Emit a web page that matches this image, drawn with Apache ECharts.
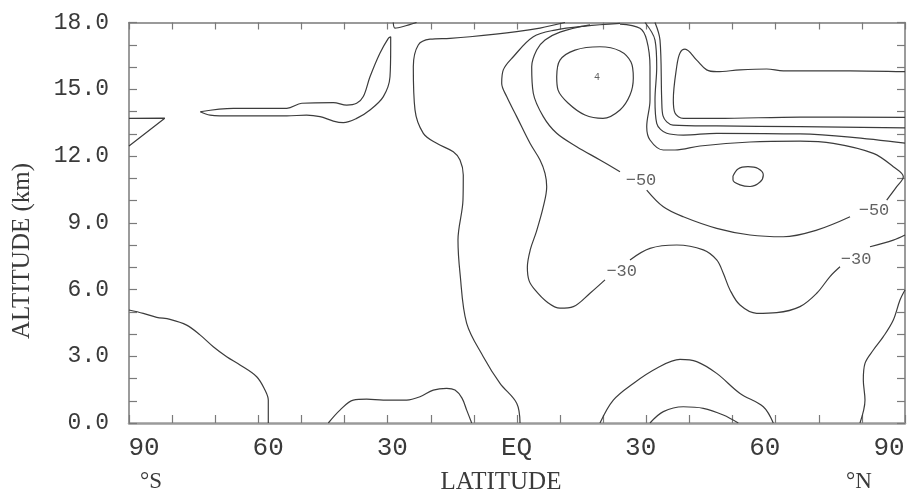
<!DOCTYPE html>
<html>
<head>
<meta charset="utf-8">
<script src="https://cdn.jsdelivr.net/npm/echarts@6/dist/echarts.min.js"></script>
<style>
html,body{margin:0;padding:0;background:#fff;}
#chart{width:908px;height:494px;}
</style>
</head>
<body>
<div id="chart"></div>
<script>
// ---- tick labels ----
const latTickValues = [-90, -60, -30, 0, 30, 60, 90];
const latTickLabels = ['90', '60', '30', 'EQ', '30', '60', '90'];
const altLabelStep = 3;

// ---- contour lines: [latitude (deg, S negative), altitude (km)] ----
const cTriangle = [[-90,13.69],[-81.7,13.7],[-90,12.45]];
const cTongue = [[-73.5,13.99],[-65.8,14.14],[-53.4,14.14],[-49.9,14.37],[-42.6,14.4],[-39.5,14.29],[-37.2,14.37],[-35.65,14.67],[-34.1,15.56],[-31.8,16.62],[-29.85,17.29],[-29.3,17.36],[-29.3,16.91],[-29.46,15.56],[-31.0,14.67],[-34.1,14.07],[-37.2,13.69],[-40.3,13.5],[-42.6,13.57],[-45.7,13.77],[-48.8,13.84],[-53.4,13.8],[-65.8,13.8],[-71.2,13.84],[-73.5,13.99]];
const cTopLoop = [[-28.7,18],[-28.3,17.75],[-26.4,17.82],[-23.3,18]];
const cBig = [[11.13,18.0],[5.34,17.75],[-0.07,17.59],[-10.9,17.36],[-15.54,17.29],[-20.18,17.25],[-22.9,16.99],[-24.05,16.01],[-23.66,14.07],[-21.73,13.02],[-18.63,12.57],[-14.78,12.19],[-13.22,11.82],[-12.46,11.15],[-12.53,10.02],[-13.69,8.22],[-13.22,6.73],[-11.67,4.48],[-7.82,2.98],[-3.94,1.78],[-0.07,0.89],[0.7,0]];
const cMinus30a = [[23.89,17.96],[15.77,17.84],[8.81,17.66],[3.78,17.36],[-0.86,16.46],[-3.18,15.87],[-3.55,15.27],[-2.39,14.67],[-0.07,13.77],[3.02,12.57],[5.34,11.82],[6.5,11.22],[6.89,10.62],[6.1,9.72],[4.5,8.6],[3.1,7.8],[2.4,7.0],[2.8,6.4],[4.18,5.98],[6.89,5.45],[9.97,5.16],[13.06,5.23],[16.93,5.83],[20.41,6.43]];
const cMinus30b = [[26.21,7.33],[30.85,7.85],[37.04,8.0],[43.21,7.78],[46.32,7.33],[47.85,6.73],[49.41,5.98],[51.73,5.3],[55.6,4.93],[60.24,4.96],[65.64,5.23],[69.52,5.83],[72.6,6.58],[74.92,7.02]];
const cMinus30c = [[81.88,7.92],[87.29,8.22],[90,8.45]];
const cMinus50a = [[16.93,17.89],[9.97,17.57],[6.5,17.21],[4.57,16.76],[3.41,16.01],[3.78,14.82],[6.1,13.77],[9.21,13.02],[13.85,12.42],[19.25,11.82],[23.89,11.29]];
const cMinus50b = [[30.09,10.47],[33.94,9.72],[38.58,9.27],[46.32,8.75],[54.05,8.45],[61.77,8.37],[69.52,8.67],[77.25,9.27]];
const cMinus50c = [[85.76,10.02],[88.08,10.62],[89.61,11.07],[87.29,11.52],[82.65,12.12],[73.37,12.57],[65.65,12.67],[54.05,12.63],[42.45,12.45],[36.65,12.27],[33.94,12.27],[30.85,12.72],[30.09,13.32],[30.85,14.52],[30.85,16.01],[30.09,17.21],[28.53,17.74],[23.89,17.93]];
const cCircle = [[9.21,15.56],[9.97,16.31],[13.45,16.76],[19.25,16.91],[23.89,16.72],[26.44,16.22],[26.98,15.51],[26.21,14.74],[23.89,14.07],[19.95,13.69],[15.77,13.84],[11.83,14.38],[9.51,14.97],[9.21,15.56]];
const cEllipse = [[50.1,11.1],[51.26,11.42],[53.58,11.52],[55.9,11.44],[57.13,11.15],[56.37,10.83],[54.05,10.63],[51.73,10.7],[50.1,10.92],[50.1,11.1]];
const cFinger = [[90,15.79],[77.25,15.83],[61.77,15.83],[57.92,15.91],[51.73,15.87],[46.32,15.79],[44.0,15.87],[41.68,16.31],[38.97,16.8],[37.81,16.63],[37.04,16.01],[36.26,14.52],[36.65,13.93],[38.58,13.69],[46.32,13.69],[65.65,13.75],[90,13.74]];
const cJet1 = [[32.01,18.0],[33.17,17.21],[33.57,14.52],[33.87,13.8],[36.19,13.39],[46.32,13.35],[65.65,13.32],[90,13.26]];
const cJet2 = [[29.69,18.0],[32.01,17.21],[32.41,16.01],[32.01,14.52],[32.41,13.47],[34.73,13.02],[38.58,12.94],[46.32,13.02],[65.65,12.99],[77.25,12.85],[90,12.58]];
const cSouthSurface = [[-90,5.08],[-86.69,4.93],[-83.58,4.75],[-80.49,4.66],[-76.62,4.4],[-73.53,3.96],[-70.45,3.43],[-67.34,2.98],[-64.25,2.61],[-60.38,2.08],[-58.46,1.48],[-57.69,1.03],[-57.69,0]];
const cSouthBump = [[-43.77,0],[-41.06,0.58],[-37.97,1.03],[-34.86,1.07],[-31.01,1.03],[-25.59,1.03],[-22.5,1.18],[-19.42,1.48],[-16.31,1.56],[-14.38,1.48],[-12.76,1.12],[-11.67,0.58],[-10.51,0]];
const cNorthHump = [[19.25,0],[22.34,1.03],[26.98,1.78],[32.41,2.46],[37.81,2.86],[41.68,2.76],[46.32,2.23],[51.73,1.33],[57.13,0.73],[59.45,0]];
const cNorthInner = [[30.85,0],[33.94,0.51],[38.58,0.73],[43.22,0.66],[47.85,0.36],[51.33,0]];
const cNorthPole = [[79.56,0],[80.72,1.03],[80.33,1.93],[80.72,2.68],[82.65,3.28],[84.97,3.88],[87.29,4.63],[88.84,5.53],[90,5.98]];

// ---- contour labels ----
const contourLabelNames = ['\u221250', '\u221250', '\u221230', '\u221230'];
const contourLabelLat = [28.76, 82.81, 24.29, 78.64];
const contourLabelAlt = [10.88, 9.57, 6.83, 7.33];
// ---- extremum marker ----
const markerName = ['4'];
const markerLat = [18.56];
const markerAlt = [15.55];

const contours = [cTriangle, cTongue, cTopLoop, cBig, cMinus30a, cMinus30b, cMinus30c,
  cMinus50a, cMinus50b, cMinus50c, cCircle, cEllipse, cFinger, cJet1, cJet2,
  cSouthSurface, cSouthBump, cNorthHump, cNorthInner, cNorthPole];

const lineColor = '#3c3c3c';
const axisColor = '#7a7a7a';
const textColor = '#3a3a3a';

const series = contours.map(function (d) {
  return {
    type: 'line', data: d, showSymbol: false, smooth: 0.35, silent: true,
    xAxisIndex: 0, yAxisIndex: 0,
    lineStyle: { color: lineColor, width: 1.2 }
  };
});
function labelSeries(names, lats, alts, size) {
  return {
    type: 'scatter', xAxisIndex: 0, yAxisIndex: 0, symbolSize: 0, silent: true,
    data: names.map(function (n, i) { return { name: n, value: [lats[i], alts[i]] }; }),
    label: {
      show: true, position: 'inside', formatter: '{b}',
      fontFamily: 'Liberation Mono', fontSize: size, color: textColor
    }
  };
}
series.push(labelSeries(contourLabelNames, contourLabelLat, contourLabelAlt, 17));
series.push(labelSeries(markerName, markerLat, markerAlt, 10));

const chart = echarts.init(document.getElementById('chart'), null, { renderer: 'canvas' });
chart.setOption({
  animation: false,
  backgroundColor: '#ffffff',
  grid: { left: 129, right: 3, top: 22.5, bottom: 71, containLabel: false },
  xAxis: [
    { type: 'value', position: 'bottom', min: -90, max: 90, interval: 10,
      axisLine: { show: true, onZero: false, lineStyle: { color: '#9a9a9a', width: 2.5 } },
      axisTick: { show: true, inside: true, length: 8, lineStyle: { color: axisColor, width: 1.2 } },
      axisLabel: { show: false }, splitLine: { show: false } },
    { type: 'value', position: 'top', min: -90, max: 90, interval: 10,
      axisLine: { show: true, onZero: false, lineStyle: { color: axisColor, width: 1.5 } },
      axisTick: { show: true, inside: true, length: 7, lineStyle: { color: axisColor, width: 1.2 } },
      axisLabel: { show: false }, splitLine: { show: false } },
    { type: 'value', position: 'bottom', min: -93.62, max: 93.87,
      axisLine: { show: false }, axisTick: { show: false }, splitLine: { show: false },
      axisLabel: {
        show: true, customValues: latTickValues, margin: 12,
        fontFamily: 'Liberation Mono', fontSize: 26, color: textColor,
        formatter: function (v) {
          const i = latTickValues.indexOf(Math.round(v));
          return i >= 0 ? latTickLabels[i] : '';
        }
      } }
  ],
  yAxis: [
    { type: 'value', position: 'left', min: 0, max: 18, interval: 1,
      axisLine: { show: true, onZero: false, lineStyle: { color: axisColor, width: 1.5 } },
      axisTick: { show: true, inside: true, length: 8, lineStyle: { color: axisColor, width: 1.2 } },
      axisLabel: {
        show: true, margin: 20, fontFamily: 'Liberation Mono', fontSize: 23, color: textColor,
        formatter: function (v) { return (Math.round(v) % altLabelStep === 0) ? v.toFixed(1) : ''; }
      },
      splitLine: { show: false } },
    { type: 'value', position: 'right', min: 0, max: 18, interval: 1,
      axisLine: { show: true, onZero: false, lineStyle: { color: axisColor, width: 1.5 } },
      axisTick: { show: true, inside: true, length: 8, lineStyle: { color: axisColor, width: 1.2 } },
      axisLabel: { show: false }, splitLine: { show: false } }
  ],
  graphic: [
    { type: 'text', x: 22, y: 251, rotation: Math.PI / 2,
      style: { text: 'ALTITUDE (km)', font: '25px "Liberation Serif"', fill: textColor,
        textAlign: 'center', textVerticalAlign: 'middle' } },
    { type: 'text', x: 501, y: 482,
      style: { text: 'LATITUDE', font: '25px "Liberation Serif"', fill: textColor,
        textAlign: 'center', textVerticalAlign: 'middle' } },
    { type: 'text', x: 151, y: 482,
      style: { text: '°S', font: '23px "Liberation Serif"', fill: textColor,
        textAlign: 'center', textVerticalAlign: 'middle' } },
    { type: 'text', x: 859, y: 482,
      style: { text: '°N', font: '23px "Liberation Serif"', fill: textColor,
        textAlign: 'center', textVerticalAlign: 'middle' } }
  ],
  series: series
});
</script>
</body>
</html>
